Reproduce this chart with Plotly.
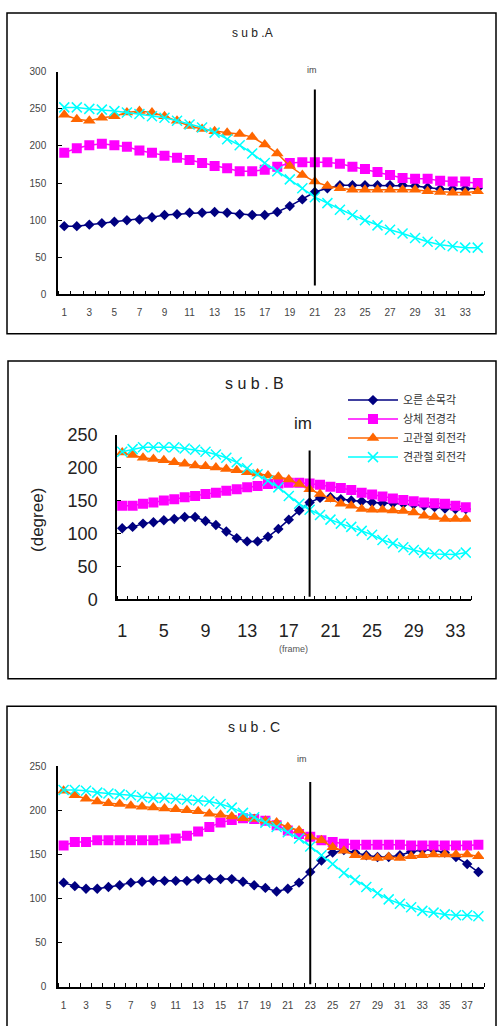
import plotly.graph_objects as go

W, H = 497, 1036

# ---------------- data ----------------
series_names = ["오른 손목각", "상체 전경각", "고관절 회전각", "견관절 회전각"]

frames_A = list(range(1, 35))
wrist_A = [92, 92, 94, 96, 98, 100, 101, 104, 107, 108, 110, 110, 111, 110, 108, 107, 107,
           111, 119, 128, 138, 143, 147, 147, 147, 147, 147, 147, 146, 144, 142, 142, 142, 143]
trunk_A = [191, 197, 201, 203, 201, 199, 194, 191, 187, 184, 181, 177, 173, 170, 166, 166, 168,
           172, 177, 178, 178, 178, 176, 172, 169, 165, 161, 157, 156, 156, 153, 152, 152, 150]
hip_A = [242, 236, 234, 238, 240, 245, 247, 245, 240, 234, 227, 223, 220, 218, 216, 212, 202,
         190, 173, 161, 152, 146, 143, 141, 141, 141, 141, 141, 141, 139, 138, 137, 137, 139]
shoulder_A = [252, 252, 250, 249, 247, 245, 243, 240, 238, 234, 229, 225, 218, 209, 201, 190, 177,
              166, 155, 143, 131, 123, 114, 107, 100, 93, 87, 82, 76, 71, 67, 65, 63, 63]
im_A = 21

frames_B = list(range(1, 35))
wrist_B = [108, 110, 115, 117, 120, 122, 125, 125, 119, 113, 103, 93, 88, 88, 95, 107, 121,
           135, 147, 154, 155, 152, 150, 149, 147, 146, 146, 145, 144, 142, 140, 138, 137, 137]
trunk_B = [142, 142, 145, 147, 150, 152, 155, 157, 160, 162, 165, 167, 170, 172, 175, 176, 177,
           177, 176, 174, 171, 169, 166, 162, 159, 156, 153, 151, 149, 147, 146, 145, 142, 140]
hip_B = [223, 219, 215, 213, 211, 208, 206, 203, 202, 200, 198, 196, 193, 191, 188, 186, 182,
         175, 167, 160, 152, 145, 142, 137, 136, 136, 135, 134, 132, 127, 125, 122, 122, 122]
shoulder_B = [224, 228, 231, 231, 231, 231, 229, 227, 224, 220, 215, 208, 199, 190, 180, 170, 157,
              145, 136, 128, 121, 115, 110, 104, 98, 90, 85, 79, 75, 71, 69, 68, 68, 71]
im_B = 19

frames_C = list(range(1, 39))
wrist_C = [118, 114, 111, 111, 113, 115, 118, 119, 120, 120, 120, 120, 122, 122, 122, 122, 119,
           115, 112, 108, 111, 118, 130, 143, 152, 155, 152, 149, 147, 147, 149, 153, 155, 155,
           152, 147, 139, 130]
trunk_C = [160, 164, 164, 166, 166, 166, 166, 166, 166, 167, 168, 171, 176, 181, 186, 189, 191,
           190, 188, 183, 177, 173, 170, 166, 164, 162, 161, 161, 161, 161, 161, 160, 160, 160,
           160, 160, 160, 161]
hip_C = [222, 217, 213, 210, 208, 207, 205, 204, 203, 202, 201, 200, 199, 196, 195, 193, 191,
         190, 188, 186, 181, 177, 170, 166, 158, 154, 149, 147, 146, 147, 146, 148, 149, 150,
         150, 150, 150, 148]
shoulder_C = [223, 223, 222, 220, 219, 218, 217, 215, 214, 214, 213, 212, 211, 210, 207, 203, 197,
              192, 186, 181, 175, 168, 159, 149, 139, 129, 121, 113, 106, 99, 94, 90, 86, 84,
              82, 81, 81, 80]
im_C = 23

colors = ["#000080", "#FF00FF", "#FF6600", "#00FFFF"]
symbols = ["diamond", "square", "triangle-up", "x-thin"]
sizes = [8, 10, 11, 10]

# ---------------- helpers ----------------
def px_x(x):
    return x / W

def px_y(y):
    return (H - y) / H

fig = go.Figure()

panels = [
    dict(frames=frames_A, data=[wrist_A, trunk_A, hip_A, shoulder_A], im=im_A, ax="", ymax=300,
         xdom=(58, 484), ydom=(290, 63), im_y=(12, 276)),
    dict(frames=frames_B, data=[wrist_B, trunk_B, hip_B, shoulder_B], im=im_B, ax="2", ymax=250,
         xdom=(117, 471), ydom=(601, 433), im_y=(4, 226)),
    dict(frames=frames_C, data=[wrist_C, trunk_C, hip_C, shoulder_C], im=im_C, ax="3", ymax=250,
         xdom=(58, 484), ydom=(996, 771), im_y=(3, 232)),
]

for pi, p in enumerate(panels):
    for si in range(4):
        fig.add_trace(go.Scatter(
            x=p["frames"], y=p["data"][si], name=series_names[si],
            mode="lines+markers",
            line=dict(color=colors[si], width=1.5),
            marker=dict(symbol=symbols[si], size=sizes[si], color=colors[si],
                        line=dict(color=colors[si], width=1.5 if si == 3 else 0)),
            xaxis="x" + p["ax"], yaxis="y" + p["ax"],
            showlegend=(pi == 1),
        ))
    xa = "x" + p["ax"]
    ya = "y" + p["ax"]
    fig.add_shape(type="line", xref=xa, yref=ya, x0=p["im"], x1=p["im"],
                  y0=p["im_y"][0], y1=p["im_y"][1], line=dict(color="black", width=2))


def xaxis_cfg(p, big):
    n = len(p["frames"])
    return dict(
        domain=[px_x(p["xdom"][0]), px_x(p["xdom"][1])],
        range=[0.5, n + 0.5],
        tickmode="array",
        tickvals=list(range(1, n + 1, 4 if big else 2)),
        ticks="", showgrid=False, zeroline=False,
        showline=True, linecolor="black", linewidth=1.5,
        tickfont=dict(family="Liberation Sans", size=18 if big else 10,
                      color="#222" if big else "#444"),
        ticklabelstandoff=14 if big else 8,
        minor=dict(tickmode="array", tickvals=[i + 0.5 for i in range(0, n + 1)],
                   ticks="inside", ticklen=4, tickcolor="black", tickwidth=1, showgrid=False),
        anchor="y" + p["ax"], fixedrange=True,
    )

def yaxis_cfg(p, big):
    return dict(
        domain=[px_y(p["ydom"][0]), px_y(p["ydom"][1])],
        range=[0, p["ymax"]],
        tickmode="array", tickvals=list(range(0, p["ymax"] + 1, 50)),
        ticks="inside", ticklen=4, tickcolor="black",
        showgrid=False, zeroline=False,
        showline=True, linecolor="black", linewidth=1.5,
        tickfont=dict(family="Liberation Sans", size=18 if big else 10,
                      color="#222" if big else "#444"),
        ticklabelstandoff=14 if big else 8,
        anchor="x" + p["ax"], fixedrange=True,
    )

fig.update_layout(
    xaxis=xaxis_cfg(panels[0], False), yaxis=yaxis_cfg(panels[0], False),
    xaxis2=xaxis_cfg(panels[1], True), yaxis2=yaxis_cfg(panels[1], True),
    xaxis3=xaxis_cfg(panels[2], False), yaxis3=yaxis_cfg(panels[2], False),
)

# panel boxes
for (x0, y0, x1, y1) in [(7, 3, 496, 330), (8, 358, 496, 682)]:
    fig.add_shape(type="rect", xref="paper", yref="paper",
                  x0=px_x(x0), x1=px_x(x1), y0=px_y(y1), y1=px_y(y0),
                  line=dict(color="black", width=1.5), layer="below")
# third box runs off the bottom of the page: draw only left, top and right sides
fig.add_shape(type="path", xref="paper", yref="paper",
              path="M {} {} L {} {} L {} {} L {} {}".format(
                  px_x(7), 0, px_x(7), px_y(710), px_x(496), px_y(710), px_x(496), 0),
              line=dict(color="black", width=1.5), layer="below")

# texts
def note(text, x, y, size, color="#222", angle=0, family="Liberation Sans"):
    fig.add_annotation(text=text, xref="paper", yref="paper", x=px_x(x), y=px_y(y),
                       xanchor="center", yanchor="middle", showarrow=False,
                       textangle=angle, font=dict(family=family, size=size, color=color))

note("s u b .A", 252, 23, 12)
note("s u b . B", 254, 381, 16)
note("s u b . C", 254, 731, 14)
note("im", 312, 61, 9, "#444")
note("im", 303, 422, 17)
note("im", 302, 764, 9, "#444")
note("(degree)", 38, 520, 17, angle=-90)
note("(frame)", 293, 652, 9, "#555")

fig.update_layout(
    width=W, height=H, margin=dict(l=0, r=0, t=0, b=0),
    paper_bgcolor="white", plot_bgcolor="white",
    legend=dict(x=px_x(343), y=px_y(383), xanchor="left", yanchor="top",
                font=dict(family="Noto Sans CJK KR", size=11, color="#333"),
                itemwidth=50, tracegroupgap=0, bgcolor="rgba(0,0,0,0)"),
)

fig.write_html("out.html")
